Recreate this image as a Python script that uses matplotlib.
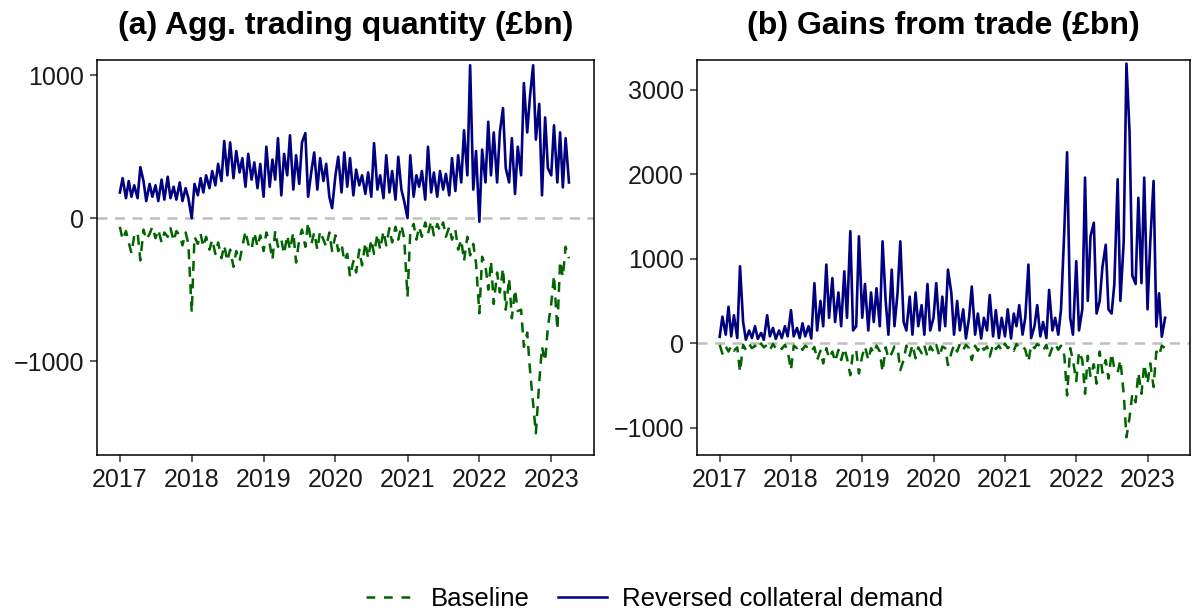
import pandas as pd
import numpy as np
import matplotlib
matplotlib.use("Agg")
import matplotlib.pyplot as plt
import matplotlib.dates as mdates
from matplotlib.lines import Line2D

plt.rcParams['font.family'] = ['Liberation Sans', 'DejaVu Sans']

# semi-monthly readings (1st and 15th of each month), Jan 2017 -> Apr 2023
dates = pd.date_range('2017-01-01', '2023-04-01', freq='SMS')

# (a) Agg. trading quantity, reversed collateral demand
qty_rev = [
    180, 280, 140, 260, 150, 230, 140, 357, 260, 120, 240, 150,   # 2017
    230, 120, 270, 130, 290, 140, 220, 130, 250, 120, 210, 140,
    0, 240, 160, 280, 180, 300, 210, 330, 230, 380, 260, 540,     # 2018
    300, 530, 280, 470, 320, 420, 220, 450, 270, 390, 210, 380,
    150, 500, 220, 410, 270, 560, 160, 450, 300, 580, 200, 440,   # 2019
    240, 530, 595, 150, 330, 460, 200, 420, 260, 380, 150, 70,
    300, 430, 180, 460, 220, 420, 160, 340, 230, 300, 170, 320,   # 2020
    150, 525, 200, 300, 140, 440, 180, 330, 130, 430, 200, 120,
    0, 440, 150, 300, 220, 330, 130, 500, 180, 320, 150, 330,     # 2021
    200, 310, 160, 420, 190, 440, 250, 615, 300, 1070, 200, 470,
    -25, 480, 250, 675, 300, 600, 250, 600, 770, 350, 250, 560,   # 2022
    170, 500, 300, 945, 600, 850, 1070, 550, 800, 160, 705, 350,
    300, 650, 250, 600, 215, 560, 250,                            # 2023
]

# (a) Agg. trading quantity, baseline
qty_base = [
    -60, -150, -90, -170, -245, -120, -100, -295, -80, -150, -110, -60,    # 2017
    -140, -80, -170, -100, -130, -70, -160, -90, -120, -190, -100, -180,
    -660, -130, -180, -110, -200, -130, -220, -150, -250, -170, -280, -190,  # 2018
    -300, -220, -340, -230, -300, -200, -90, -180, -220, -100, -200, -120,
    -230, -100, -180, -290, -90, -200, -150, -250, -120, -220, -100, -310,  # 2019
    -150, -80, -200, -30, -180, -100, -220, -90, -150, -200, -100, -230,
    -120, -230, -180, -300, -250, -410, -300, -380, -220, -330, -170, -280,  # 2020
    -150, -250, -110, -220, -90, -190, -70, -170, -60, -150, -50, -140,
    -550, -100, -40, -150, -60, -130, -30, -110, -20, -120, -40, -90,      # 2021
    -30, -130, -60, -150, -80, -220, -150, -300, -130, -260, -180, -315,
    -665, -270, -330, -500, -300, -600, -380, -520, -350, -640, -420, -700,  # 2022
    -500, -650, -640, -900, -800, -1060, -1300, -1505, -1150, -900, -1000, -760,
    -600, -400, -780, -300, -410, -200, -280,                              # 2023
]

# (b) Gains from trade, reversed collateral demand
gains_rev = [
    75, 313, 100, 430, 80, 330, 60, 910, 250, 40, 150, 60,        # 2017
    200, 50, 120, 40, 330, 80, 180, 50, 150, 60, 200, 80,
    390, 80, 180, 60, 235, 80, 200, 55, 710, 150, 500, 200,       # 2018
    930, 300, 770, 250, 600, 200, 850, 300, 1325, 150, 200, 1265,
    300, 700, 150, 600, 250, 650, 200, 1205, 500, 100, 870, 200,  # 2019
    600, 1205, 250, 150, 550, 100, 600, 200, 450, 100, 700, 150,
    300, 710, 150, 550, 200, 870, 600, 100, 500, 150, 400, 55,    # 2020
    300, 670, 100, 350, 55, 300, 150, 570, 80, 390, 60, 300,
    80, 400, 55, 350, 200, 450, 100, 300, 930, 60, 200, 450,      # 2021
    80, 250, 60, 630, 150, 300, 100, 400, 1345, 2260, 300, 100,
    970, 150, 400, 1960, 500, 1265, 1425, 350, 500, 900, 1165, 400,  # 2022
    350, 700, 1940, 500, 1200, 3310, 2495, 800, 700, 1720, 710, 1960,
    400, 1200, 1920, 195, 590, 75, 300,                           # 2023
]

# (b) Gains from trade, baseline
gains_base = [
    -20, -125, -40, -100, -30, -90, -50, -340, -20, -80, -10, -60,     # 2017
    -30, -70, -5, -50, -20, -80, -10, -60, -30, -70, -20, -85,
    -320, -30, -60, -20, -80, -30, -60, -100, -45, -200, -90, -240,    # 2018
    -60, -180, -100, -220, -80, -200, -60, -180, -380, -100, -80, -360,
    -150, -40, -200, -60, -120, -30, -100, -340, -50, -180, -120, -40,  # 2019
    -60, -320, -200, -30, -150, -20, -180, -50, -120, -30, -160, -40,
    -100, -20, -160, -40, -60, -260, -120, -20, -100, -10, -80, -20,   # 2020
    -60, -200, -30, -90, -20, -80, -40, -160, -10, -70, -30, -90,
    -5, -60, -30, -90, -10, -50, -30, -80, -220, -20, -60, -10,        # 2021
    -40, -90, -20, -160, -50, -5, -80, -30, -150, -620, -60, -200,
    -450, -100, -200, -600, -150, -400, -250, -480, -100, -350, -200, -420,  # 2022
    -120, -300, -350, -200, -600, -1115, -880, -600, -700, -350, -600, -250,
    -480, -240, -520, -100, -150, -30, -60,                            # 2023
]

titles = ['(a) Agg. trading quantity (£bn)', '(b) Gains from trade (£bn)']
ylims = [(-1657, 1105), (-1325, 3349)]
yticks = [[-1000, 0, 1000], [-1000, 0, 1000, 2000, 3000]]

navy = '#000080'
green = '#006400'
dash = (0, (4, 3))

fig = plt.figure(figsize=(11.95, 6.13), dpi=100)
ax1 = fig.add_axes([0.0812, 0.2577, 0.416, 0.644])
ax2 = fig.add_axes([0.5833, 0.2577, 0.4126, 0.644])

panels = [(ax1, qty_base, qty_rev), (ax2, gains_base, gains_rev)]
for i, (ax, base, rev) in enumerate(panels):
    ax.axhline(0, color='#BEBEBE', lw=1.8, ls=(0, (4, 3)), zorder=1)
    ax.plot(dates, base, color=green, lw=1.8, ls=dash, zorder=2)
    ax.plot(dates, rev, color=navy, lw=1.9, zorder=3)
    ax.set_ylim(*ylims[i])
    ax.set_yticks(yticks[i])
    ax.set_xlim(pd.Timestamp('2016-09-07'), pd.Timestamp('2023-08-07'))
    ax.xaxis.set_major_locator(mdates.YearLocator())
    ax.xaxis.set_major_formatter(mdates.DateFormatter('%Y'))
    ax.tick_params(labelsize=18, length=5, width=1.1, color='#333333',
                   labelcolor='#1a1a1a', pad=4.5)
    for sp in ax.spines.values():
        sp.set_linewidth(1.1)
        sp.set_color('black')
    ax.set_title(titles[i], fontsize=23, fontweight='bold', pad=19)

handles = [Line2D([], [], color=green, lw=1.8, ls=(0, (3.5, 3.5))),
           Line2D([], [], color=navy, lw=1.8)]
fig.legend(handles, ['Baseline', 'Reversed collateral demand'], loc='lower center',
           bbox_to_anchor=(0.548, -0.035), ncol=2, frameon=False, fontsize=18.5,
           handlelength=1.9, handletextpad=0.6, columnspacing=1.1)

fig.savefig('out.png', dpi=100)
